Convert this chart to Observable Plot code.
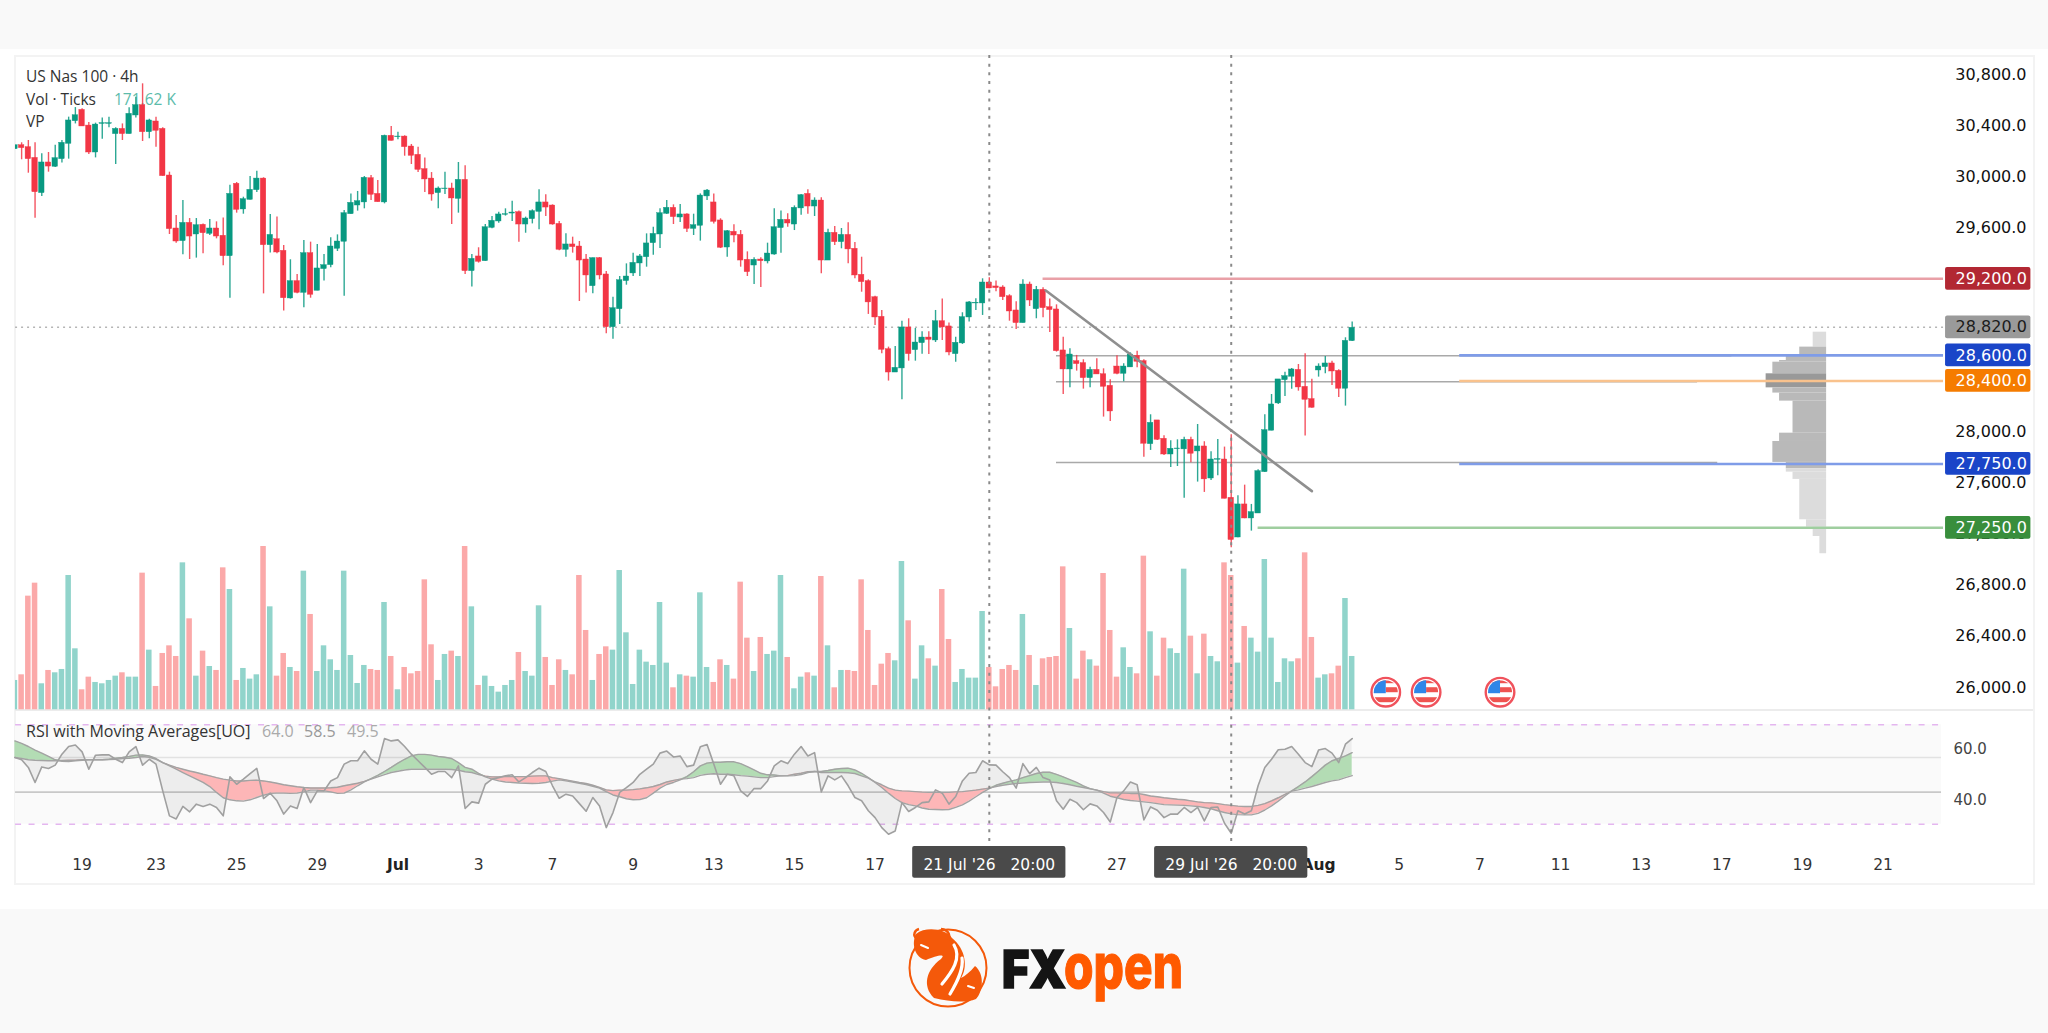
<!DOCTYPE html>
<html><head><meta charset="utf-8">
<script src="https://cdn.jsdelivr.net/npm/d3@7"></script>
<script src="https://cdn.jsdelivr.net/npm/@observablehq/plot@0.6"></script>
<style>
html,body{margin:0;padding:0;background:#fff;width:2048px;height:1033px;overflow:hidden;font-family:"DejaVu Sans",sans-serif}
#page{position:relative;width:2048px;height:1033px;overflow:hidden}
#page svg.plot-layer,#page>svg{position:absolute;left:0;top:0}
.band{position:absolute;left:0;width:2048px;background:#f9f9f9}
.card{position:absolute;left:14px;top:55px;width:2017px;height:826px;border:2px solid #f3f3f3}
.sep{position:absolute;left:15px;width:2018px;top:709px;height:1.5px;background:#ececec}
.t{position:absolute;white-space:nowrap;font-family:"Open Sans",sans-serif;font-size:15.5px;color:#333;line-height:20px}
.top{z-index:5}
</style></head><body>
<div id="page">
<div class="band" style="top:0;height:49px"></div>
<div class="band" style="top:909px;height:124px"></div>
<div class="card"></div><div class="sep"></div>
<div class="t" style="left:26px;top:66px">US Nas 100 · 4h</div>
<div class="t" style="left:26px;top:89px">Vol · Ticks</div>
<div class="t" style="left:114px;top:89px;color:#5cbcab">171.62 K</div>
<div class="t" style="left:26px;top:111px">VP</div>
<div class="t top" style="left:26px;top:721px;font-size:16px">RSI with Moving Averages[UO]</div>
<div class="t top" style="left:262px;top:721px;font-size:16px;color:#aaa">64.0</div>
<div class="t top" style="left:304px;top:721px;font-size:16px;color:#999">58.5</div>
<div class="t top" style="left:347px;top:721px;font-size:16px;color:#aaa">49.5</div>
<svg width="2048" height="1033" style="position:absolute;left:0;top:0">
  <circle cx="948" cy="968" r="38.5" fill="none" stroke="#f4590a" stroke-width="2"/>
  <path d="M916 934C926 926 946 929 952 938C966 949 968 968 961 978C965 976 970 972 975 966C985 974 983 992 976 999C966 1003 950 1002 934 998C922 986 926 970 941 959C947 953 936 956 926 960C915 958 911 944 916 934Z" fill="#f4590a"/>
  <path d="M954 945C962 958 952 972 942 984M962 958C964 970 956 984 950 994" fill="none" stroke="#fff" stroke-width="3.2" stroke-linecap="round"/>
  <path d="M921 945l7 3M968 986l6 2" fill="none" stroke="#fff" stroke-width="2" stroke-linecap="round"/>
  <path d="M917 939C912 935 915 930 919 929M941 929C950 930 950 937 949 940" fill="none" stroke="#f4590a" stroke-width="2.5"/>
  <text x="1002" y="988" font-family="Inter" font-weight="900" font-size="52" fill="#141414" stroke="#141414" stroke-width="1.6" textLength="64" lengthAdjust="spacingAndGlyphs">FX</text>
  <text x="1064" y="988" font-family="Inter" font-weight="800" font-size="62" fill="#ff5a00" stroke="#ff5a00" stroke-width="1.2" textLength="119" lengthAdjust="spacingAndGlyphs">open</text>
</svg>
<div id="charts"></div>
</div>
<script>
const candleOpen=[30215,30246,30231,30147,29871,30111,30077,30137,30257,30434,30523,30400,30189,30413,30413,30333,30374,30333,30479,30560,30348,30432,30374,30009,29594,29495,29638,29547,29623,29552,29594,29537,29377,29944,29743,29818,29894,29985,29463,29510,29419,29046,29182,29090,29401,29106,29276,29307,29435,29490,29706,29774,29798,29988,29865,29798,30320,30309,30314,30236,30171,30059,29985,29871,29902,29907,29826,29975,29260,29375,29338,29599,29649,29701,29711,29722,29625,29667,29724,29798,29774,29630,29427,29469,29453,29351,29142,29362,29234,28821,28962,29182,29242,29320,29369,29479,29547,29709,29756,29680,29704,29591,29615,29845,29798,29657,29445,29568,29544,29349,29304,29351,29336,29390,29597,29662,29625,29751,29865,29766,29813,29343,29560,29487,29544,29435,29231,29182,29056,28902,28649,28466,28498,28819,28641,28696,28740,28717,28868,28827,28610,28694,28897,29007,29007,29171,29140,29132,29064,28952,28853,29155,28962,29114,28978,28960,28639,28490,28555,28540,28422,28487,28453,28362,28513,28456,28506,28597,28555,27905,28091,27947,27824,27866,27864,27939,27848,27887,27636,27783,27785,27485,27174,27433,27323,27362,27686,28010,28224,28406,28433,28487,28354,28258,28482,28508,28537,28479,28339,28712];
const candleClose=[30246,30223,30137,29878,30111,30079,30145,30265,30440,30481,30393,30189,30408,30419,30419,30374,30333,30492,30560,30348,30440,30359,30004,29589,29492,29638,29531,29620,29557,29594,29531,29377,29865,29740,29824,29897,29985,29463,29544,29406,29048,29182,29090,29401,29075,29281,29307,29453,29492,29714,29795,29808,29991,29858,29800,30320,30280,30314,30231,30163,30053,29978,29860,29907,29907,29829,29975,29260,29356,29333,29604,29654,29704,29706,29719,29625,29672,29730,29798,29758,29625,29427,29469,29448,29343,29226,29362,29226,28821,28970,29189,29218,29325,29375,29477,29552,29714,29756,29683,29704,29591,29620,29852,29891,29646,29443,29573,29539,29343,29252,29349,29338,29398,29604,29662,29633,29756,29855,29766,29813,29343,29560,29487,29544,29430,29226,29174,29015,28897,28644,28466,28503,28819,28610,28701,28740,28722,28868,28819,28623,28699,28900,29015,29012,29171,29124,29127,29056,28944,28853,29155,29030,29114,28970,28955,28633,28490,28607,28532,28422,28487,28451,28354,28161,28456,28513,28607,28550,27908,28072,27939,27824,27869,27871,27939,27830,27887,27629,27785,27788,27477,27154,27433,27323,27373,27694,28015,28216,28412,28438,28490,28349,28252,28190,28513,28537,28474,28339,28714,28816];
const candleHigh=[30246,30265,30283,30265,30179,30189,30246,30283,30466,30541,30531,30424,30419,30460,30466,30382,30413,30539,30622,30727,30450,30466,30382,30035,29696,29813,29672,29672,29630,29664,29646,29677,29933,29954,29839,30001,30043,29991,29704,29683,29461,29349,29234,29500,29487,29469,29390,29521,29544,29735,29865,29884,30001,30009,29970,30325,30393,30348,30320,30252,30231,30147,30032,29918,30035,29949,30111,30085,29390,29443,29625,29688,29722,29748,29808,29730,29683,29740,29897,29858,29779,29649,29552,29526,29492,29390,29362,29367,29257,29056,29218,29317,29401,29390,29552,29604,29748,29813,29779,29782,29709,29706,29865,29899,29865,29670,29578,29623,29578,29411,29364,29364,29479,29748,29730,29709,29771,29860,29897,29834,29834,29589,29610,29594,29638,29484,29369,29192,29064,28952,28665,28670,28868,28887,28811,28785,28785,28952,29041,28853,28743,28934,29022,29043,29200,29208,29182,29145,29075,29020,29192,29174,29140,29129,29041,28996,28743,28652,28600,28566,28508,28573,28495,28409,28597,28534,28620,28633,28566,28135,28091,27971,27931,27939,27960,27960,28059,27924,27845,27942,27882,27978,27501,27584,27433,27704,28135,28294,28412,28469,28498,28529,28613,28414,28534,28592,28555,28487,28738,28861];
const candleLow=[30215,30132,30027,29675,29845,30035,30072,30106,30137,30413,30393,30173,30147,30293,30382,30095,30283,30333,30460,30275,30296,30231,30004,29547,29479,29388,29351,29362,29396,29539,29513,29302,29048,29714,29706,29818,29876,29082,29403,29396,28947,29041,29082,28973,29048,29106,29182,29286,29414,29064,29706,29730,29748,29813,29800,29787,30280,30288,30160,30095,30032,29876,29808,29748,29860,29625,29714,29234,29135,29323,29338,29591,29636,29691,29649,29487,29557,29630,29584,29688,29620,29419,29369,29401,29022,29088,29082,29192,28769,28727,28842,29150,29218,29218,29291,29385,29437,29704,29625,29641,29563,29539,29495,29813,29630,29437,29369,29482,29291,29218,29155,29132,29317,29385,29401,29604,29578,29698,29706,29688,29239,29343,29461,29435,29317,29200,29095,28921,28834,28613,28399,28466,28252,28555,28555,28610,28607,28701,28717,28597,28547,28686,28861,28952,28913,29122,29098,29030,28868,28803,28853,28983,28887,28894,28780,28626,28294,28346,28477,28336,28346,28451,28117,28083,28448,28393,28506,28503,27803,27856,27934,27817,27723,27730,27482,27759,27608,27527,27621,27657,27477,27094,27172,27321,27224,27362,27683,28010,28216,28279,28336,28320,27968,28187,28430,28456,28365,28271,28203,28709];
const volumeK=[94.4,112.6,365.8,407.6,83.7,126.6,119.1,129.8,432.3,196.3,64.4,105.1,88,83.7,94.4,108.3,119.1,105.1,105.1,439.8,192,75.1,181.3,205.9,171.6,473,292.8,108.3,188.8,139.4,126.6,456.9,387.2,94.4,133,98.7,112.6,525.6,331.4,108.3,181.3,136.2,123.3,446.2,306.8,123.3,205.9,160.9,126.6,446.2,174.8,84.7,142.7,129.8,126.6,345.4,171.6,64.4,136.2,115.8,123.3,418.3,209.2,94.4,178.1,188.8,171.6,525.6,331.4,78.3,108.3,75.1,56.8,78.3,94.4,184.5,123.3,108.3,334.7,168.4,78.3,160.9,126.6,112.6,432.3,255.3,94.4,178.1,202.7,192,448.3,247.8,81.5,192,153.4,142.7,345.4,150.2,70.8,112.6,108.3,105.1,376.5,136.2,88,160.9,142.7,98.7,410.8,230.6,123.3,232.8,178.1,188.8,432.3,168.4,67.6,105.1,119.1,108.3,429,205.9,70.8,126.6,126.6,123.3,418.3,255.3,78.3,146.9,181.3,157.7,477.3,286.4,98.7,205.9,164.1,140.5,387.2,226.3,88,129.8,101.9,101.9,316.4,136.2,74,129.8,142.7,126.6,306.8,174.8,78.3,164.1,168.4,171.6,460.1,261.7,98.7,188.8,160.9,140.5,438.7,255.3,105.1,199.5,136.2,115.8,494.5,251,108.3,230.6,196.3,181.3,452.6,237,115.8,243.5,171.6,154.5,473,432.3,150.2,268.2,230.6,185.6,483.7,230.6,88,164.1,154.5,164.1,505.2,232.8,101.9,112.6,115.8,140.5,358.2,171.62];
const rsiValue=[56.6,55.7,52.7,46.8,52.9,52.3,53.6,57.9,60.9,61.5,58.8,52,57.5,57.6,57.6,55.9,54.6,58.8,60.9,53.6,55.9,54,43.5,33.7,32.5,37.4,35.3,38.3,37.4,38.3,37,33.7,49,46.1,48.1,50.3,52.3,40.5,42.6,39.6,34.4,37.6,36.6,44.8,38.9,43.5,43.5,47.4,48.7,54,55.3,55.3,59.2,55.9,54,64,63.1,63.5,60.9,57.9,55.3,52.7,50,51.1,51.1,48.7,53.3,36.6,39.2,38.7,46.1,48.1,48.7,49.4,49.8,47,48.7,50.7,52.4,51.1,45.5,40.6,42.2,41.5,38.5,35.5,40.9,37.6,29.1,35,42.9,44.8,46.8,50,52,54,58.3,59.1,56.8,57.2,53,53.6,60.8,61.7,54,46.1,50,49.4,43.5,41.3,44.4,44.4,47.4,53.3,55.3,54.2,57.9,60.9,57.2,58.5,43.1,49.4,47.8,49.4,45.5,40.9,39.6,35.7,33,29.1,26.5,27.8,38.9,35.4,37,38.9,39.2,43.9,42.6,38.3,41.3,47.4,50.4,50.7,55.3,53.7,53.6,51,48.7,44.6,54.2,50.3,52.7,48.7,47.8,39.6,36.3,40.2,38.9,36.1,38.4,37.6,35,31.3,40.9,43.5,47,45.9,32.1,37.2,35.9,33,34.4,34.4,37,35,37,31.7,37,37.2,30.8,26.9,35.7,34.4,35.7,45.5,52.7,55.9,59.6,59.8,60.9,57.9,54.6,53,59.5,60.1,58.3,54.6,61.8,64];
const rsiFast=[63.1,62.1,60.9,59.5,58.3,57,55.7,55.1,55,55.3,55.5,55.7,55.7,55.7,55.9,56.3,56.6,57,57.5,57.6,57.2,56.2,54.6,53.3,52,50.7,49.4,48.1,46.8,45.2,42.9,40.8,40,39.6,39.5,40,40.9,41.8,42.5,42.6,42.6,42.5,42.6,43.1,43.8,43.8,43.5,43.1,42.5,42.6,43.9,45.5,47,48.3,49.6,51.1,52.7,54.4,55.9,57.2,57.8,57.8,57.5,57,56.7,56.2,54.6,52.7,52,50.4,49,48.1,47.4,47,46.8,46.6,46.5,46.4,46.5,46.8,47.3,47.8,47.4,47,46.5,46,45.3,44.6,43.2,41.9,41.2,40.4,40,40.1,40.8,42.6,44.6,46,46.8,47.8,49.1,51,53.3,54.4,54.7,54.7,54.9,54.9,54.2,53,51.7,50.4,49.8,49.7,49.4,49.4,49.5,49.9,50.7,51.1,51.1,51.5,52,52.3,52.4,51.7,50.4,48.7,46.8,44.8,42.6,40.5,38.9,38.1,37.6,36.8,36.3,36.2,36.1,36.2,37,38,39.5,41.2,42.9,44.4,45.7,46.5,47.2,47.8,48.7,49.5,50.3,50.8,50.8,50,49,47.9,46.8,45.5,44.4,43.8,42.6,41.4,40.8,40.1,39.7,39.5,39.2,38.9,38.5,38.1,38,37.9,37.8,37.6,37.4,37,36.5,35.7,35,34.5,34.2,34.1,34.1,34.7,36,37.6,39.5,41.5,43.5,45.2,47,49.1,51.3,53.6,55.3,56.2,57.2,58.5];
const rsiSlow=[56.6,56.2,55.7,55.5,55.4,55.3,55.3,55.4,55.5,55.5,55.7,55.7,55.7,55.7,55.8,55.9,56.2,56.3,56.6,57,56.7,55.9,54.6,53.6,52.7,52,51.3,50.7,50,49.4,48.7,48.1,47.7,47.4,47.4,47.6,47.7,47.4,47,46.5,45.9,45.5,45.1,44.8,44.6,44.6,44.6,44.7,44.9,45.5,46,46.5,47.2,48.1,49,49.9,50.7,51.2,51.7,52,52,52,52,52,52,51.9,51.6,51,50.7,49.9,49.3,49,49,49.1,49.1,49.1,49.1,49.3,49.4,49.4,48.7,48.3,47.8,47.3,46.8,46.4,45.7,44.9,43.9,43.6,43.8,43.8,44,44.3,44.7,45.2,46,47,47.6,48.1,48.3,48.7,49.6,50,50.2,50,50,49.8,49.5,49.3,49,48.7,48.7,49.1,49.4,49.5,50,50.4,51,51.1,50.7,50.7,50.7,50.7,50.6,50.3,49.4,48.5,47,45.9,44.6,43.8,43.5,43.4,43.2,43,42.9,42.9,42.9,42.9,43.1,43.2,43.5,43.8,44.2,44.6,45.2,45.7,46.1,46.4,46.6,46.8,46.9,47,47,46.8,46.4,45.9,45.3,44.8,44.3,43.8,43.2,42.7,42.7,42.6,42.5,42.5,42.1,41.5,41.2,40.8,40.5,40.2,40,39.6,39.2,38.9,38.8,38.5,38.1,37.8,37.5,37.4,37.4,37.8,38.5,39.6,40.8,42.1,43.4,43.9,44.6,45.2,46,46.8,47.4,47.8,48.7,49.5];

const priceTicks=[26000,26400,26800,27200,27600,28000,28400,28800,29200,29600,30000,30400,30800];
const rsiTicks=[60,40];
const rsiBands=[69.4,30.4];
const rsiLevels=[56.6,43];
const timeTickBars=[10,21,33,45,57,69,80,92,104,116,128,164,194,206,218,230,242,254,266,278];
const timeTickLabels=["19","23","25","29","Jul","3","7","9","13","15","17","27","Aug","5","7","11","13","17","19","21"];
const crossBars=[145,181];
const crossLabels=["21 Jul '26   20:00","29 Jul '26   20:00"];
const levelPrices=[29200,28600,28400,27750,27250];
const levelColors=["#e9a0a7","#7f9ce8","#f9c28d","#7f9ce8","#9fce9f"];
const levelStarts=[153,215,215,215,185];
const greyPrices=[28597,28393,27762];
const greyEnds=[255.5,250.4,253.4];
const lastPrice=28820;
const boxPrices=[29200,28820,28600,28400,27750,27250];
const boxFills=["#b22833","#9a9a9a","#1a45c8","#f57c00","#1a45c8","#388e3c"];
const boxText=["#fff","#1c1c1c","#fff","#fff","#fff","#fff"];
const trendBars=[153.4,193];
const trendPrices=[29108,27537];
const vpTop=[28782,28665,28607,28560,28547,28456,28346,28305,28242,27991,27926,27762,27712,27686,27629,27313,27255,27182];
const vpBottom=[28665,28607,28560,28547,28456,28346,28305,28242,27991,27926,27762,27712,27686,27629,27313,27255,27182,27047];
const vpWidth=[2,4,6,7,8,9,8,7,5,7,8,6,6,5,4,3,2,1];
const vpFill=["#dcdcdc","#b9b9b9","#b9b9b9","#b9b9b9","#b9b9b9","#999999","#b9b9b9","#b9b9b9","#b9b9b9","#b9b9b9","#b9b9b9","#b9b9b9","#dcdcdc","#dcdcdc","#dcdcdc","#dcdcdc","#dcdcdc","#dcdcdc"];
const eventBars=[204,210,221];
const eventVolumeLevel=56.6;

const bars=d3.range(candleOpen.length);
const up=i=>candleClose[i]>=candleOpen[i];
const xScale={domain:[0,300],range:[14.4,2030.4],axis:null};
const base={width:2048,height:1033,marginLeft:15,marginRight:22,marginTop:0,marginBottom:0,x:xScale,color:{type:"identity"},
  style:{background:"transparent",overflow:"visible",position:"absolute",left:0,top:0,fontFamily:"'DejaVu Sans',sans-serif"}};
const flag="data:image/svg+xml,"+encodeURIComponent('<svg xmlns="http://www.w3.org/2000/svg" width="32" height="32" viewBox="0 0 32 32"><defs><clipPath id="c"><circle cx="16" cy="16" r="12"/></clipPath></defs><circle cx="16" cy="16" r="14.3" fill="#fff" stroke="#f0525c" stroke-width="2.4"/><g clip-path="url(#c)"><rect x="3" y="4" width="26" height="3" fill="#ef5350"/><rect x="16" y="11" width="14" height="5" fill="#ef5350"/><rect x="3" y="21" width="26" height="5" fill="#ef5350"/><rect x="3" y="3" width="13" height="14" fill="#2f86e8"/></g></svg>');

const rsiPlot=Plot.plot({...base,marginRight:95,marginBottom:168,y:{domain:[40,60],range:[799.3,748.3],axis:null},marks:[
  Plot.rect([0],{x1:0.1,x2:286.7,y1:rsiBands[0],y2:rsiBands[1],fill:"#fafafa"}),
  Plot.ruleY(rsiLevels,{x1:0.1,x2:286.7,stroke:(d,i)=>i?"#c8c8c8":"#e2e2e2",strokeWidth:1.6}),
  Plot.ruleY(rsiBands,{x1:0.1,x2:286.7,stroke:"#e4b6ef",strokeWidth:1.5,strokeDasharray:"6,7.5"}),
  Plot.areaY(bars,{x:i=>i,y1:i=>rsiValue[i],y2:i=>rsiFast[i],fill:"#000",fillOpacity:0.05}),
  Plot.areaY(bars,{x:i=>i,y1:i=>rsiSlow[i],y2:i=>Math.max(rsiFast[i],rsiSlow[i]),fill:"#b3dcb4"}),
  Plot.areaY(bars,{x:i=>i,y1:i=>rsiSlow[i],y2:i=>Math.min(rsiFast[i],rsiSlow[i]),fill:"#fdb6b7"}),
  Plot.lineY(bars,{x:i=>i,y:i=>rsiSlow[i],stroke:"#a3a3a3",strokeWidth:1.4}),
  Plot.lineY(bars,{x:i=>i,y:i=>rsiFast[i],stroke:"#a3a3a3",strokeWidth:1.4}),
  Plot.lineY(bars,{x:i=>i,y:i=>rsiValue[i],stroke:"#a0a0a0",strokeWidth:1.6}),
  Plot.axisY({anchor:"right",ticks:rsiTicks,tickSize:0,tickPadding:0,label:null,tickFormat:d3.format(".1f"),fontSize:15,fill:"#444"}),
  Plot.text(timeTickBars.filter((_,i)=>!/[A-Z]/.test(timeTickLabels[i])),{x:d=>d,text:d=>timeTickLabels[timeTickBars.indexOf(d)],frameAnchor:"bottom",lineAnchor:"middle",fontSize:15.5,fill:"#333"}),
  Plot.text(timeTickBars.filter((_,i)=>/[A-Z]/.test(timeTickLabels[i])),{x:d=>d,text:d=>timeTickLabels[timeTickBars.indexOf(d)],frameAnchor:"bottom",lineAnchor:"middle",fontSize:15.5,fontWeight:"bold",fill:"#222"}),
  Plot.rect(crossBars,{x1:d=>d-11.4,x2:d=>d+11.4,y1:21.7,y2:9.2,fill:"#4a4a4a",rx:2}),
  Plot.text(crossBars,{x:d=>d,text:(d,i)=>crossLabels[i],frameAnchor:"bottom",lineAnchor:"middle",fontSize:15.5,fill:"#fff"})
]});

const volPlot=Plot.plot({...base,y:{domain:[0,525.6],range:[709.3,546],axis:null},marks:[
  Plot.rectY(bars,{x1:i=>i-0.41,x2:i=>i+0.41,y1:0,y2:i=>volumeK[i],fill:i=>up(i)?"#91d4cb":"#fba9a9",clip:true}),
  Plot.image(eventBars,{x:d=>d,y:eventVolumeLevel,src:flag,width:32,height:32})
]});

const pricePlot=Plot.plot({...base,y:{domain:[27250,29200],range:[527.3,278.3],axis:null},marks:[
  Plot.axisY({anchor:"right",ticks:priceTicks,tickSize:0,tickPadding:0,textAnchor:"end",label:null,tickFormat:d3.format(",.1f"),fontSize:16,fill:"#111"}),
  Plot.rect(vpTop,{x1:(d,i)=>269.6-vpWidth[i],x2:269.6,y1:d=>d,y2:(d,i)=>vpBottom[i],fill:(d,i)=>vpFill[i]}),
  Plot.ruleY(greyPrices,{x1:155,x2:(d,i)=>greyEnds[i],stroke:"#a9a9a9",strokeWidth:1.5}),
  Plot.ruleY(levelPrices,{x1:(d,i)=>levelStarts[i],x2:287,stroke:(d,i)=>levelColors[i],strokeWidth:2.6}),
  Plot.ruleY([lastPrice],{x1:0.1,x2:287,stroke:"#b5b5b5",strokeWidth:1.5,strokeDasharray:"2,4"}),
  Plot.ruleX(bars,{x:i=>i,y1:i=>candleLow[i],y2:i=>candleHigh[i],stroke:i=>up(i)?"#089981":"#f23645",strokeWidth:1.4,strokeOpacity:0.85,clip:true}),
  Plot.rect(bars,{x1:i=>i-0.41,x2:i=>i+0.41,y1:i=>candleOpen[i],y2:i=>candleClose[i],fill:i=>up(i)?"#089981":"#f23645",stroke:i=>up(i)?"#089981":"#f23645",strokeWidth:0.4,clip:true}),
  Plot.line(trendBars,{x:d=>d,y:(d,i)=>trendPrices[i],stroke:"#8f8f8f",strokeWidth:2.6}),
  Plot.ruleX(crossBars,{y1:30949,y2:24754,stroke:"#8a8a8a",strokeWidth:2,strokeDasharray:"3,5.7"}),
  Plot.rect(boxPrices,{x1:287.3,x2:300,y1:d=>d-89,y2:d=>d+89,fill:(d,i)=>boxFills[i],rx:2}),
  Plot.text(boxPrices,{x:299.4,y:d=>d,text:d3.format(",.1f"),textAnchor:"end",fontSize:16,fill:(d,i)=>boxText[i]})
]});

const host=document.getElementById("page");
[rsiPlot,volPlot,pricePlot].forEach(p=>{p.classList&&p.classList.add("plot-layer");host.appendChild(p);});
</script>
</body></html>
